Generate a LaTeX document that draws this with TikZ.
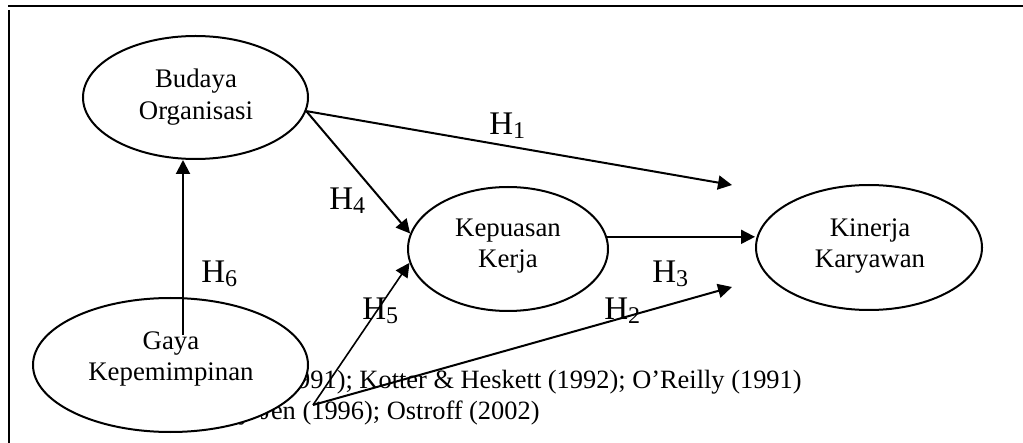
\documentclass[tikz,border=0pt]{standalone}
\usepackage{fontspec}
\setmainfont{Liberation Serif}
\usetikzlibrary{arrows.meta,shapes.geometric}
\newcommand\hlabel[1]{H\raisebox{-2pt}{\fontsize{12}{14}\selectfont #1}}
\begin{document}
\begin{tikzpicture}[x=0.5pt,y=-0.5pt,
  construct/.style={ellipse,draw,line width=1pt,fill=white,inner sep=0pt},
  caption/.style={align=center,inner sep=0pt,font=\fontsize{13.4}{15.75}\selectfont},
  hyp/.style={anchor=base west,inner sep=0pt,font=\fontsize{16.5}{18}\selectfont},
  link/.style={line width=1pt,-{Triangle[length=7pt,width=7pt]}},
  thinlink/.style={line width=0.8pt,-{Triangle[length=7pt,width=7pt]}},
  ref/.style={anchor=base east,inner sep=0pt,font=\fontsize{13.2}{16}\selectfont}]

\useasboundingbox (0,0) rectangle (1023,443);

% frame
\draw[line width=1.3pt] (8,6) -- (1023,6);
\draw[line width=1pt] (9,10) -- (9,443);

% sources (partly covered by the leadership ellipse)
\node[ref] (src1) at (802,388) {(1991); Kotter \& Heskett (1992); O’Reilly (1991)};
\node[ref] (src2) at (540,419) {Shy-Jen (1996); Ostroff (2002)};

% constructs
\node[construct,minimum width=112.5pt,minimum height=61.5pt] (bud) at (195.5,97.5) {};
\node[construct,minimum width=137.5pt,minimum height=67pt] (gaya) at (170.5,365) {};
\node[construct,minimum width=100pt,minimum height=62pt] (kep) at (508,249) {};
\node[construct,minimum width=113pt,minimum height=62.5pt] (kin) at (869,247.5) {};

\node[caption] (budT) at (196,97) {Budaya\\Organisasi};
\node[caption] (gayaT) at (171,359) {Gaya\\Kepemimpinan};
\node[caption] (kepT) at (508,246) {Kepuasan\\Kerja};
\node[caption] (kinT) at (870,246) {Kinerja\\Karyawan};

% free ends
\coordinate (h1end) at (732,185);
\coordinate (h2end) at (732,287);
\coordinate (lead) at (313,405);
\coordinate (h6start) at (183,335);

% paths
\draw[link] (bud.-7) -- (h1end);
\draw[link] (bud.-7) -- (kep.171);
\draw[thinlink] (lead) -- (kep.188);
\draw[link] (lead) -- (h2end);
\draw[link] (h6start) -- (h6start |- bud.south);
\draw[link] (kep.7) -- (kin.west |- kep.7);

% hypothesis labels
\node[hyp] (H1) at (489,135) {\hlabel{1}};
\node[hyp] (H2) at (604,320) {\hlabel{2}};
\node[hyp] (H3) at (652,283) {\hlabel{3}};
\node[hyp] (H4) at (329,210) {\hlabel{4}};
\node[hyp] (H5) at (362,320) {\hlabel{5}};
\node[hyp] (H6) at (201,283) {\hlabel{6}};
\end{tikzpicture}
\end{document}
